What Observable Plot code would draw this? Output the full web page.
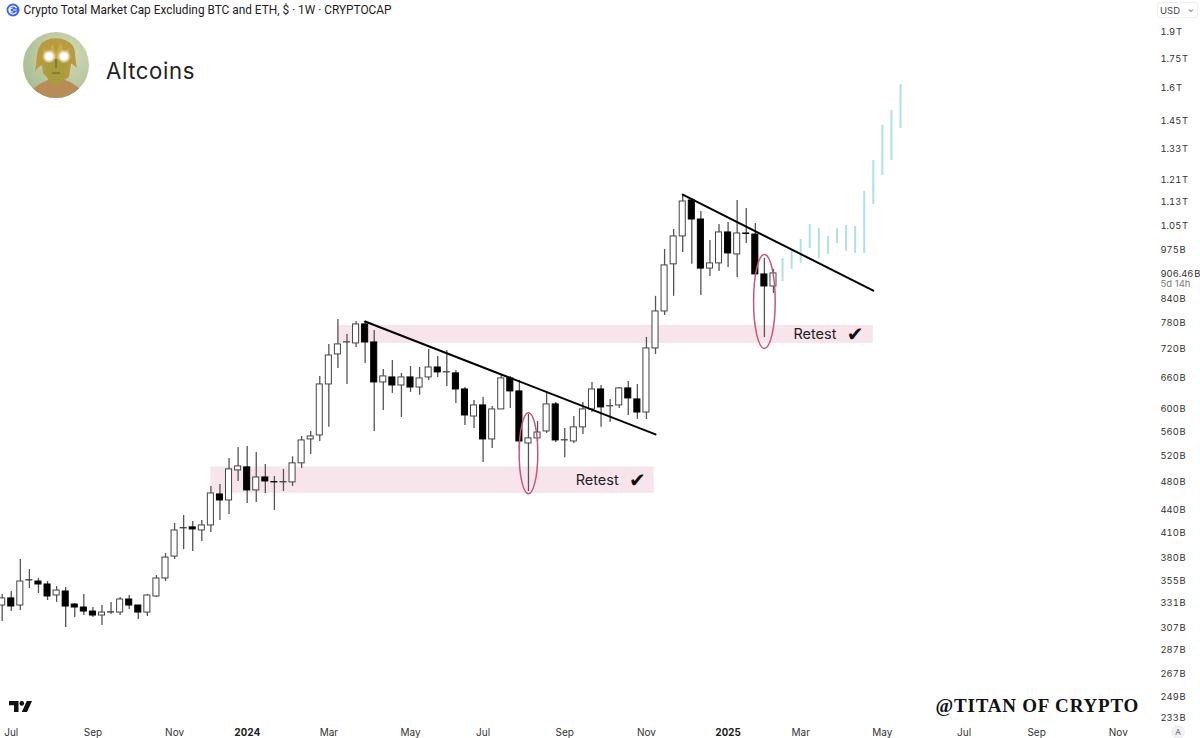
<!DOCTYPE html>
<html>
<head>
<meta charset="utf-8">
<script src="https://cdn.jsdelivr.net/npm/d3@7"></script>
<script src="https://cdn.jsdelivr.net/npm/@observablehq/plot@0.6"></script>
<style>
html,body{margin:0;padding:0;background:#fff;width:1200px;height:738px;overflow:hidden}
#wrap{position:relative;width:1200px;height:738px}
#wrap>svg.abs,#wrap>div.abs{position:absolute}
#usd{left:1157px;top:2px;width:41px;height:16px;border:1px solid #eee;border-radius:3px;box-sizing:border-box;font:9.5px Inter,sans-serif;color:#444;line-height:15px;padding-left:2px}
#usd span{position:absolute;right:3px;top:-1px;font-size:8px;color:#666}
#auto{left:1171px;top:725px;width:14px;height:14px;border-radius:50%;background:#eef0f4;font:8px Inter,sans-serif;color:#666;text-align:center;line-height:14px}
</style>
</head>
<body>
<div id="wrap"></div>
<script>
// Weekly candles, values in billions of USD
const opens = [328.2,335.4,328.2,354.3,353.2,350,338.4,342.6,329.2,326.2,322.2,318.3,321.2,321.2,334.3,328.2,321.2,337.4,356.5,381.2,415.5,416.8,412.9,419.3,461,452.6,496.2,500.8,466.7,485.6,478.8,478.3,478.3,507,545.5,552.2,645.4,707.5,733.9,731.7,775.5,733.9,649.4,659.4,643.4,659.4,639.4,659.4,679.8,669.6,667.6,635.6,585.1,605.3,545.5,597.9,657.4,631.8,538.8,547.2,559,607.2,543.8,542.1,566,597.9,635.6,603.5,605.3,637.6,616.5,592.3,720.6,806.9,932,1015,1133,1069,920,934.7,1027.5,960.7,1024.3,1021,903.6,871];
const highs = [339.5,342.6,377.8,366.4,356.5,353.2,347.8,346.8,330.3,339.5,326.2,328.2,331.3,336.4,338.4,328.2,339.5,359.8,384.7,421.9,432.4,424.4,425.7,472.4,475.3,514.7,532.3,534,524.2,505.4,487.1,497.7,517.3,550.5,559,661.5,729.5,787.4,752.1,782.6,782.6,761.4,675.8,694.6,667.6,681.9,679.8,718.4,703.2,716.2,673.7,639.4,614.6,620.2,603.5,663.6,661.5,653.4,589,576.2,628,610.8,564.1,585.1,610.8,649.4,643.4,616.4,639.4,651.4,645.4,745.1,845,975.5,1037,1150,1140,1095.7,1002.7,1053,1059.6,1133,1106,1056,949,917.6];
const lows = [312.5,322.2,323.2,345.7,340.5,333.3,331.3,306.9,316.4,318.3,316.4,308.7,319.3,318.3,324.2,314.5,317.4,336.4,353.2,377.8,389.6,387.2,399.3,410.4,425.7,433.6,479.7,448.5,449.9,462.4,439,465.2,472.4,499.2,521,542.1,566,677.8,645.4,722.8,688.3,559,596,628,583.3,629.9,624.2,653.4,659.4,641.4,609,569.3,564.1,508.5,530.6,597.9,599.7,529,465.2,542.1,555.6,540.4,515.8,538.8,553.9,592.3,566,574.5,599.7,587,579.8,579.8,707.5,796.9,845,966.5,932,847.5,898,912,923,895,993.5,903.6,745,852.6];
const closes = [335.4,327.2,353.2,354.8,350,337.4,343.6,327.2,326.2,322.2,318.3,321.2,321.6,334.3,328.2,321.2,338.4,356.5,380,412.9,416,414.2,419.3,462.4,452.6,497.7,502.3,466.7,485.6,479.7,478.3,478.8,507,543.8,550.5,645.4,705.3,729.5,734.4,775.5,733.9,649.4,661.5,643.4,659.4,639.4,657.4,679.8,669.6,670.2,635.6,587,605.3,545.5,597.9,657.4,631.8,542.1,547.2,557.2,607.2,543.8,544.3,566,597.9,635.6,601.6,604,637.6,618.4,592.3,720.6,806.9,928.9,1015,1129.5,1069,920,934.7,1027.5,963.6,1024.3,1022.5,903.6,871,906.46];

// Projected light-blue bars
const ghostHighs = [949,975.5,1006,1053,1040,1015,1040,1049.6,1046.4,1165,1280.8,1426,1492.5,1616];
const ghostLows = [884.5,917.6,934.7,978.5,949,960.7,993.5,969.5,963.6,963.6,1119,1223,1280.8,1412];

// Axis ticks
const priceTicks = [1900,1750,1600,1450,1330,1210,1130,1050,975,906.46,840,780,720,660,600,560,520,480,440,410,380,355,331,307,287,267,249,233];
const priceLabels = ["1.9\u200aT","1.75\u200aT","1.6\u200aT","1.45\u200aT","1.33\u200aT","1.21\u200aT","1.13\u200aT","1.05\u200aT","975\u200aB","906.46\u200aB","840\u200aB","780\u200aB","720\u200aB","660\u200aB","600\u200aB","560\u200aB","520\u200aB","480\u200aB","440\u200aB","410\u200aB","380\u200aB","355\u200aB","331\u200aB","307\u200aB","287\u200aB","267\u200aB","249\u200aB","233\u200aB"];
const u = (y,m,d) => new Date(Date.UTC(y,m-1,d));
const monthTicks = [u(2023,7,3),u(2023,9,4),u(2023,11,6),u(2024,3,4),u(2024,5,6),u(2024,7,1),u(2024,9,2),u(2024,11,4),u(2025,3,3),u(2025,5,5),u(2025,7,7),u(2025,9,1),u(2025,11,3)];
const yearTicks = [u(2024,1,1),u(2025,1,6)];

// Annotations
const zones = [
  {x1:u(2023,12,4),x2:u(2024,11,10),y1:462.4,y2:501.5},
  {x1:u(2024,3,11),x2:u(2025,4,28),y1:731.7,y2:773}
];
const trend1 = [{x:u(2024,4,1),y:782.6},{x:u(2024,11,11),y:553.9}];
const trend2 = [{x:u(2024,12,2),y:1153.5},{x:u(2025,4,28),y:860}];
const retests = [{x:u(2024,9,27),y:481},{x:u(2025,3,14),y:752}];
const checks = [{x:u(2024,10,28),y:481},{x:u(2025,4,14),y:752}];
const circled = [
  {x:u(2024,8,5),y:523,r:40.5},
  {x:u(2025,2,3),y:832,r:47}
];

const firstWeek = u(2023,6,26);
const candles = opens.map((o,i)=>{
  const d = d3.utcWeek.offset(firstWeek,i);
  return {date:d,x1:d3.utcHour.offset(d,-56),x2:d3.utcHour.offset(d,56),open:o,high:highs[i],low:lows[i],close:closes[i]};
});
const lastWeek = candles[candles.length-1].date;
const ghosts = ghostHighs.map((h,i)=>({date:d3.utcWeek.offset(lastWeek,i+1),high:h,low:ghostLows[i]}));

const ellipse = {draw(ctx,size){
  const ry = Math.sqrt(size/Math.PI), rx = ry*0.23, k = 0.5523;
  ctx.moveTo(0,-ry);
  ctx.bezierCurveTo(k*rx,-ry,rx,-k*ry,rx,0);
  ctx.bezierCurveTo(rx,k*ry,k*rx,ry,0,ry);
  ctx.bezierCurveTo(-k*rx,ry,-rx,k*ry,-rx,0);
  ctx.bezierCurveTo(-rx,-k*ry,-k*rx,-ry,0,-ry);
  ctx.closePath();
}};

const font = "Inter, 'Liberation Sans', sans-serif";
const chart = Plot.plot({
  width:1200,height:738,
  marginTop:0,marginLeft:0,marginRight:45,marginBottom:15,
  style:{fontFamily:font,background:"#fff",overflow:"visible"},
  x:{type:"utc",domain:[new Date(Date.UTC(2023,5,24,17)),new Date(Date.UTC(2025,11,1,17))],range:[0,1155],axis:null},
  y:{type:"log",domain:[233,1900],range:[717,31],axis:null},
  marks:[
    Plot.rect(zones,{x1:"x1",x2:"x2",y1:"y1",y2:"y2",fill:"#f8e5ec"}),
    Plot.ruleX(ghosts,{x:"date",y1:"low",y2:"high",stroke:"#aee0e9",strokeWidth:2}),
    Plot.ruleX(candles,{x:"date",y1:"low",y2:"high",stroke:"#555",strokeWidth:1.3}),
    Plot.rect(candles.filter(d=>d.close>=d.open),{x1:"x1",x2:"x2",y1:"open",y2:"close",fill:"#fff",stroke:"#444",strokeWidth:1}),
    Plot.rect(candles.filter(d=>d.close<d.open),{x1:"x1",x2:"x2",y1:"open",y2:"close",fill:"#000",stroke:"#000",strokeWidth:1}),
    Plot.line(trend1,{x:"x",y:"y",stroke:"#000",strokeWidth:2}),
    Plot.line(trend2,{x:"x",y:"y",stroke:"#000",strokeWidth:2}),
    Plot.dot([circled[0]],{x:"x",y:"y",r:circled[0].r,symbol:ellipse,stroke:"#c9567f",strokeWidth:1.5,fill:"none"}),
    Plot.dot([circled[1]],{x:"x",y:"y",r:circled[1].r,symbol:ellipse,stroke:"#c9567f",strokeWidth:1.5,fill:"none"}),
    Plot.text(retests,{x:"x",y:"y",text:()=>"Retest",fontSize:14.5,fill:"#222"}),
    Plot.text(checks,{x:"x",y:"y",text:()=>"\u2714",fontSize:20,fill:"#111",fontFamily:"DejaVu Sans"}),
    Plot.axisY(priceTicks,{anchor:"right",tickSize:0,tickPadding:5,dy:0.7,fontSize:9.4,fill:"#333",label:null,tickFormat:d=>priceLabels[priceTicks.indexOf(d)]}),
    Plot.text(["5d 14h"],{frameAnchor:"right",y:()=>877,dx:5,textAnchor:"start",fontSize:9.5,fill:"#777",text:d=>d}),
    Plot.axisX(monthTicks,{anchor:"bottom",tickSize:0,tickPadding:5,fontSize:10,fill:"#333",label:null,tickFormat:d3.utcFormat("%b")}),
    Plot.axisX(yearTicks,{anchor:"bottom",tickSize:0,tickPadding:5,fontSize:10,fontWeight:"bold",fill:"#222",label:null,tickFormat:d3.utcFormat("%Y")}),
    Plot.text(["Crypto Total Market Cap Excluding BTC and ETH, $ \u00b7 1W \u00b7 CRYPTOCAP"],{frameAnchor:"top-left",dx:23,dy:5,lineAnchor:"top",textAnchor:"start",fontSize:11.85,fontFamily:"Roboto",fill:"#222",text:d=>d}),
    Plot.text(["Altcoins"],{frameAnchor:"top-left",dx:105.5,dy:63,lineAnchor:"top",textAnchor:"start",fontSize:22.2,fill:"#222",text:d=>d}),
    Plot.text(["@TITAN OF CRYPTO"],{frameAnchor:"top-left",dx:935,dy:698,lineAnchor:"top",textAnchor:"start",fontSize:19,fontWeight:"bold",fontFamily:"Liberation Serif",fill:"#111",text:d=>d})
  ]
});
d3.select(chart).selectAll("text").filter(function(){return this.textContent==="@TITAN OF CRYPTO"}).attr("letter-spacing","0.8");
d3.select(chart).selectAll("text").filter(function(){return this.textContent==="Altcoins"}).attr("letter-spacing","0.6");

const wrap = document.getElementById("wrap");
wrap.appendChild(chart);
wrap.insertAdjacentHTML("beforeend",`
<svg class="abs" style="left:6px;top:3px" width="14" height="14" viewBox="0 0 14 14">
  <circle cx="7" cy="7" r="6.5" fill="#3861fb"/>
  <path d="M10.5 5.2a4 4 0 1 0 0 3.6M7 5.2a2 2 0 1 0 0 3.6M7 7h3.6" fill="none" stroke="#fff" stroke-width="1.2"/>
</svg>
<svg class="abs" style="left:23px;top:32px" width="66" height="66" viewBox="0 0 66 66">
  <defs>
    <clipPath id="av"><circle cx="33" cy="33" r="33"/></clipPath>
    <radialGradient id="sky" cx="65%" cy="35%" r="70%"><stop offset="0" stop-color="#d6dcb6"/><stop offset="1" stop-color="#a9bd95"/></radialGradient>
    <radialGradient id="eye"><stop offset="0.45" stop-color="#fff"/><stop offset="1" stop-color="#fff" stop-opacity="0"/></radialGradient>
  </defs>
  <g clip-path="url(#av)">
    <rect width="66" height="66" fill="url(#sky)"/>
    <path d="M6 66C10 52 22 50 27 47h13c6 3 17 5 21 19z" fill="#b98b56"/>
    <path d="M18 12C26 3 44 5 50 14c3 6 2 14 4 22-3-2-5-5-6-4l-2 13-6 4H27l-7-8-1-8c-2 1-5 3-7 6 2-9 1-20 6-27z" fill="#b99a3f"/>
    <path d="M23 20c6-4 15-4 20 0l1 15-4 14-7 5-7-5-4-14z" fill="#a99c3c"/>
    <path d="M20 14l6 9 3-12 4 10 5-11 3 11 6-7-2 13H22z" fill="#c9a94b"/>
    <circle cx="26" cy="24.5" r="7" fill="url(#eye)"/>
    <circle cx="41" cy="24.5" r="7" fill="url(#eye)"/>
    <path d="M33 27v9M29 41h8" stroke="#6f6326" stroke-width="1.2" fill="none"/>
  </g>
</svg>
<svg class="abs" style="left:9px;top:700px" width="23" height="13" viewBox="0 0 23 13">
  <path d="M0 1h9.5v11H5V5.2H0z" fill="#111"/><circle cx="12.8" cy="3.4" r="2.3" fill="#111"/><path d="M23 1l-5 11h-5.2l5-11z" fill="#111"/>
</svg>
<div class="abs" id="usd">USD<span>\u2304</span></div>
<div class="abs" id="auto">A</div>`);
</script>
</body>
</html>
